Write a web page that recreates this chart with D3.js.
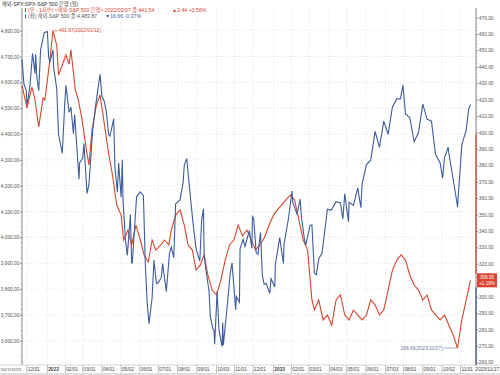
<!DOCTYPE html>
<html>
<head>
<meta charset="utf-8">
<script src="https://cdn.jsdelivr.net/npm/d3@7"></script>
<style>
  body { margin: 0; background: #fff; }
  text { font-family: "Liberation Sans", "Noto Sans CJK KR", sans-serif; }
</style>
</head>
<body>
<script>
// S&P 500 (left axis)
const spxDates = ["2021-11-23","2021-11-26","2021-11-30","2021-12-01","2021-12-03","2021-12-06","2021-12-10","2021-12-14","2021-12-15","2021-12-17","2021-12-20","2021-12-23","2021-12-29","2022-01-03","2022-01-05","2022-01-07","2022-01-12","2022-01-13","2022-01-18","2022-01-21","2022-01-27","2022-01-31","2022-02-02","2022-02-07","2022-02-10","2022-02-14","2022-02-16","2022-02-23","2022-02-24","2022-03-01","2022-03-03","2022-03-08","2022-03-11","2022-03-17","2022-03-22","2022-03-29","2022-04-01","2022-04-05","2022-04-08","2022-04-12","2022-04-14","2022-04-20","2022-04-22","2022-04-26","2022-04-28","2022-05-02","2022-05-04","2022-05-05","2022-05-09","2022-05-12","2022-05-17","2022-05-19","2022-05-20","2022-05-27","2022-06-02","2022-06-07","2022-06-10","2022-06-13","2022-06-16","2022-06-21","2022-06-24","2022-06-28","2022-07-01","2022-07-06","2022-07-08","2022-07-14","2022-07-19","2022-07-22","2022-07-26","2022-07-29","2022-08-05","2022-08-10","2022-08-12","2022-08-16","2022-08-19","2022-08-23","2022-08-26","2022-08-31","2022-09-06","2022-09-09","2022-09-12","2022-09-13","2022-09-16","2022-09-21","2022-09-23","2022-09-27","2022-09-29","2022-09-30","2022-10-04","2022-10-07","2022-10-12","2022-10-13","2022-10-14","2022-10-21","2022-10-25","2022-10-28","2022-11-03","2022-11-04","2022-11-09","2022-11-10","2022-11-15","2022-11-18","2022-11-25","2022-11-29","2022-11-30","2022-12-02","2022-12-06","2022-12-09","2022-12-13","2022-12-16","2022-12-19","2022-12-22","2022-12-28","2022-12-30","2023-01-05","2023-01-06","2023-01-13","2023-01-19","2023-01-20","2023-01-27","2023-02-02","2023-02-03","2023-02-10","2023-02-15","2023-02-17","2023-02-22","2023-02-24","2023-03-03","2023-03-06","2023-03-10","2023-03-13","2023-03-17","2023-03-22","2023-03-24","2023-03-31","2023-04-06","2023-04-14","2023-04-21","2023-04-25","2023-04-28","2023-05-04","2023-05-05","2023-05-12","2023-05-19","2023-05-24","2023-05-26","2023-06-02","2023-06-09","2023-06-16","2023-06-23","2023-06-30","2023-07-07","2023-07-14","2023-07-21","2023-07-27","2023-07-31","2023-08-04","2023-08-11","2023-08-18","2023-08-25","2023-09-01","2023-09-08","2023-09-15","2023-09-21","2023-09-22","2023-09-29","2023-10-03","2023-10-06","2023-10-12","2023-10-13","2023-10-20","2023-10-26","2023-10-27","2023-11-03","2023-11-10","2023-11-14","2023-11-17"];
const spxValues = [4690,4595,4567,4513,4538,4592,4712,4634,4709,4620,4568,4726,4793,4796,4700,4677,4726,4659,4577,4398,4326,4516,4589,4484,4504,4401,4475,4225,4289,4306,4363,4170,4204,4412,4512,4631,4546,4525,4488,4397,4392,4459,4272,4175,4288,4155,4300,4147,3991,3930,4088,3901,3901,4158,4176,4161,3901,3750,3666,3765,3912,3821,3825,3845,3899,3790,3937,3962,3921,4130,4145,4210,4280,4305,4228,4128,4058,3955,3908,4067,4110,3932,3873,3790,3693,3647,3640,3586,3791,3640,3577,3669,3583,3752,3859,3901,3720,3771,3749,3956,3992,3965,4026,3958,4080,4072,3941,3934,4019,3852,3818,3822,3783,3840,3808,3895,3999,3899,3973,4071,4179,4136,4090,4148,4079,3991,3970,4046,4048,3862,3855,3917,3937,3971,4109,4105,4138,4133,4071,4169,4061,4136,4124,4192,4115,4205,4282,4299,4410,4348,4450,4399,4505,4536,4537,4589,4478,4464,4370,4406,4516,4457,4450,4330,4320,4288,4229,4309,4349,4327,4224,4137,4117,4358,4415,4496,4514];

// S&P 500 Banks (right axis)
const bankDates = ["2021-11-23","2021-12-01","2021-12-09","2021-12-14","2021-12-20","2021-12-27","2021-12-30","2022-01-07","2022-01-12","2022-01-18","2022-01-21","2022-01-27","2022-02-02","2022-02-07","2022-02-10","2022-02-17","2022-02-22","2022-02-28","2022-03-07","2022-03-11","2022-03-16","2022-03-23","2022-03-29","2022-04-04","2022-04-11","2022-04-18","2022-04-25","2022-05-02","2022-05-06","2022-05-13","2022-05-19","2022-05-26","2022-06-02","2022-06-08","2022-06-15","2022-06-21","2022-06-27","2022-07-05","2022-07-11","2022-07-18","2022-07-22","2022-07-29","2022-08-05","2022-08-12","2022-08-18","2022-08-25","2022-08-31","2022-09-07","2022-09-13","2022-09-19","2022-09-26","2022-10-03","2022-10-10","2022-10-17","2022-10-24","2022-10-31","2022-11-07","2022-11-14","2022-11-21","2022-11-28","2022-12-05","2022-12-12","2022-12-19","2022-12-27","2023-01-03","2023-01-09","2023-01-16","2023-01-23","2023-01-30","2023-02-06","2023-02-13","2023-02-20","2023-02-27","2023-03-06","2023-03-10","2023-03-17","2023-03-24","2023-03-31","2023-04-07","2023-04-14","2023-04-21","2023-04-28","2023-05-05","2023-05-12","2023-05-19","2023-05-26","2023-06-02","2023-06-09","2023-06-16","2023-06-23","2023-06-30","2023-07-07","2023-07-14","2023-07-21","2023-07-28","2023-08-04","2023-08-11","2023-08-18","2023-08-25","2023-09-01","2023-09-08","2023-09-15","2023-09-22","2023-09-29","2023-10-06","2023-10-13","2023-10-20","2023-10-27","2023-11-03","2023-11-10","2023-11-17"];
const bankValues = [428.9,414.9,427.7,419.8,403.3,421,419.8,444.2,461.97,453.3,435,441.1,447.2,441.54,450.3,425.9,419.8,407.6,389.3,380.2,401.5,416.7,422.8,407.6,389.3,374.1,355.8,349.7,334.5,340.6,331.5,343.6,334.5,325.4,321.1,334.5,328.4,331.5,334.5,331.5,340.6,349.7,352.8,343.6,331.5,328.4,316.2,319.3,325.4,313.2,304,301,310.1,322.3,331.5,334.5,343.6,337,340.6,334.5,328.4,331.5,335.7,343.6,349.7,352.8,355.8,358.9,361.9,358.9,346.7,334.5,328.4,298,291.9,298,285.8,288.8,282.7,298,301,288.8,285.8,291.9,288.8,285.8,288.8,298,295,288.8,291.9,304,316.2,322.3,325.4,322.3,313.2,307.1,304,298,301,291.9,288.8,285.8,288.8,282.7,276.6,268.69,285.8,298,309.95];

// axis ticks and labels
const leftTicks = [3600,3700,3800,3900,4000,4100,4200,4300,4400,4500,4600,4700,4800];
const rightTicks = [260,270,280,290,300,310,320,330,340,350,360,370,380,390,400,410,420,430,440,450,460,470];
const monthTickDates = ["2021-12-01","2022-01-03","2022-02-01","2022-03-01","2022-04-01","2022-05-02","2022-06-01","2022-07-01","2022-08-01","2022-09-01","2022-10-03","2022-11-01","2022-12-01","2023-01-03","2023-02-01","2023-03-01","2023-04-03","2023-05-01","2023-06-01","2023-07-03","2023-08-01","2023-09-01","2023-10-02","2023-11-01"];
const monthTickLabels = ["12/01","2022","02/01","03/01","04/01","05/02","06/01","07/01","08/01","09/01","10/03","11/01","12/01","2023","02/01","03/01","04/03","05/01","06/01","07/03","08/01","09/01","10/02","11/01"];

const titleText = "해외-SPX:SPX-S&P 500 은행 (일)";
const bankLegend = "(우 - 1지수) <해외-S&P 500 은행>:2022/02/07 종:441.54";
const bankChange = "▲2.44  +0.56%";
const spxLegend = "(좌) 해외-S&P 500 종:4,483.87";
const spxChange = "▼16.66  -0.37%";

const blue = "#3c5c9c", red = "#d9452e", gridColor = "#d0d0d0", axisColor = "#8a8a8a";
const W = 500, H = 375;
const mLeft = 22, mRight = 476, mTop = 8, mBottom = 365;
const fs = 4.8;

const parse = d3.timeParse("%Y-%m-%d");
const fmt = d3.format(",.2f");

const svg = d3.select("body").append("svg")
    .attr("width", W).attr("height", H)
    .style("display", "block");

// last trading day sits a few pixels inside the right axis
const x = d3.scaleTime()
    .domain([parse("2021-11-23"), parse("2023-11-17")])
    .range([mLeft, 470.5]);
const yL = d3.scaleLinear().domain([3600, 4800]).range([340.7, 30.7]);
const yR = d3.scaleLinear().domain([260, 460]).range([362.3, 34]);

// gridlines
svg.append("g").selectAll("line")
    .data(leftTicks).enter().append("line")
    .attr("x1", mLeft).attr("x2", mRight)
    .attr("y1", d => yL(d)).attr("y2", d => yL(d))
    .attr("stroke", gridColor).attr("stroke-width", 0.6)
    .attr("stroke-dasharray", "1,2");
svg.append("g").selectAll("line")
    .data(monthTickDates).enter().append("line")
    .attr("x1", d => x(parse(d))).attr("x2", d => x(parse(d)))
    .attr("y1", mTop).attr("y2", mBottom)
    .attr("stroke", gridColor).attr("stroke-width", 0.6)
    .attr("stroke-dasharray", "1,2");

// left axis
const gl = svg.append("g").attr("transform", `translate(${mLeft},0)`);
gl.call(d3.axisLeft(yL).tickValues(leftTicks).tickSize(2).tickPadding(0.6).tickFormat(fmt));
gl.select(".domain").attr("stroke", axisColor).attr("d", `M0,${mTop}V${mBottom}`);
gl.selectAll(".tick line").attr("stroke", axisColor);
gl.selectAll("text").attr("font-size", fs).attr("fill", "#555");
// minor ticks
gl.append("g").selectAll("line")
    .data(d3.range(3520, 4880, 20).filter(v => v % 100 !== 0)).enter().append("line")
    .attr("x1", -1.2).attr("x2", 0)
    .attr("y1", d => yL(d)).attr("y2", d => yL(d))
    .attr("stroke", axisColor).attr("stroke-width", 0.6);

// right axis
const gr = svg.append("g").attr("transform", `translate(${mRight},0)`);
gr.call(d3.axisRight(yR).tickValues(rightTicks).tickSize(2).tickPadding(0.8).tickFormat(fmt));
gr.select(".domain").attr("stroke", axisColor).attr("d", `M0,${mTop}V${mBottom}`);
gr.selectAll(".tick line").attr("stroke", axisColor);
gr.selectAll("text").attr("font-size", fs).attr("fill", "#555");
gr.selectAll(".tick").filter(d => d === 310).remove();
gr.append("g").selectAll("line")
    .data(d3.range(258, 476, 2).filter(v => v % 10 !== 0)).enter().append("line")
    .attr("x1", 0).attr("x2", 1.2)
    .attr("y1", d => yR(d)).attr("y2", d => yR(d))
    .attr("stroke", axisColor).attr("stroke-width", 0.6);
// coloured parts of right axis
gr.append("line").attr("x1", 0).attr("x2", 0)
    .attr("y1", yR(399)).attr("y2", yR(314))
    .attr("stroke", red).attr("stroke-width", 1.2);
gr.append("line").attr("x1", 0).attr("x2", 0)
    .attr("y1", yR(305.5)).attr("y2", mBottom)
    .attr("stroke", blue).attr("stroke-width", 1.2);

// bottom axis
svg.append("line").attr("x1", 0).attr("x2", W).attr("y1", mBottom).attr("y2", mBottom)
    .attr("stroke", "#bbb").attr("stroke-width", 0.6);
svg.append("line").attr("x1", 0).attr("x2", W).attr("y1", H - 1).attr("y2", H - 1)
    .attr("stroke", "#bbb").attr("stroke-width", 1);
const gx = svg.append("g");
gx.selectAll("line").data(monthTickDates).enter().append("line")
    .attr("x1", d => x(parse(d))).attr("x2", d => x(parse(d)))
    .attr("y1", mBottom).attr("y2", mBottom + 8)
    .attr("stroke", "#999").attr("stroke-width", 0.6);
gx.selectAll("text").data(monthTickDates).enter().append("text")
    .attr("x", d => x(parse(d)) + 0.8).attr("y", mBottom + 6.3)
    .attr("font-size", fs).attr("fill", "#444")
    .attr("font-weight", (d, i) => monthTickLabels[i].length === 4 ? "bold" : "normal")
    .text((d, i) => monthTickLabels[i]);
gx.append("text").attr("x", 0.5).attr("y", mBottom + 6.3)
    .attr("font-size", 4.2).attr("fill", "#444")
    .attr("textLength", 20.5).attr("lengthAdjust", "spacingAndGlyphs")
    .text("2021/11/23");
gx.append("text").attr("x", W - 1).attr("y", mBottom + 6.3)
    .attr("text-anchor", "end").attr("font-size", fs).attr("fill", "#444")
    .text("2023/11/17");

// lines
const spx = spxDates.map((d, i) => ({date: parse(d), value: spxValues[i]}));
const bank = bankDates.map((d, i) => ({date: parse(d), value: bankValues[i]}));

svg.append("path").datum(bank)
    .attr("fill", "none").attr("stroke", red).attr("stroke-width", 1.1)
    .attr("d", d3.line().x(d => x(d.date)).y(d => yR(d.value)));
svg.append("path").datum(spx)
    .attr("fill", "none").attr("stroke", blue).attr("stroke-width", 1.1)
    .attr("d", d3.line().x(d => x(d.date)).y(d => yL(d.value)));

// max / min annotations
const maxPt = bank[d3.maxIndex(bank, d => d.value)];
const minPt = bank[d3.minIndex(bank, d => d.value)];
const tf = d3.timeFormat("%Y/%m/%d");
svg.append("line").attr("x1", x(maxPt.date)).attr("x2", x(maxPt.date) + 5)
    .attr("y1", yR(maxPt.value)).attr("y2", yR(maxPt.value))
    .attr("stroke", red).attr("stroke-width", 0.6);
svg.append("text").attr("x", x(maxPt.date) + 6).attr("y", yR(maxPt.value) + 1.7)
    .attr("font-size", fs).attr("fill", red)
    .text(`${maxPt.value.toFixed(2)}(${tf(maxPt.date)})`);
svg.append("line").attr("x1", x(minPt.date) - 14).attr("x2", x(minPt.date))
    .attr("y1", yR(minPt.value)).attr("y2", yR(minPt.value))
    .attr("stroke", "#6a7aa0").attr("stroke-width", 0.6);
svg.append("text").attr("x", x(minPt.date) - 15).attr("y", yR(minPt.value) + 1.7)
    .attr("text-anchor", "end").attr("font-size", fs).attr("fill", "#6a7aa0")
    .text(`${minPt.value.toFixed(2)}(${tf(minPt.date)})`);

// last value label on right axis
const last = bank[bank.length - 1];
svg.append("rect").attr("x", mRight + 1).attr("y", yR(last.value) - 7)
    .attr("width", 20).attr("height", 14).attr("fill", red);
svg.append("text").attr("x", mRight + 11).attr("y", yR(last.value) - 1.5)
    .attr("text-anchor", "middle").attr("font-size", 4.6).attr("fill", "#fff")
    .text(last.value.toFixed(2));
svg.append("text").attr("x", mRight + 11).attr("y", yR(last.value) + 4.5)
    .attr("text-anchor", "middle").attr("font-size", 4.6).attr("fill", "#fff")
    .text("+1.19%");

// header
svg.append("text").attr("x", 2).attr("y", 6).attr("font-size", 5.2).attr("fill", "#333")
    .text(titleText);
const lg = svg.append("g");
lg.append("rect").attr("x", 25).attr("y", 8).attr("width", 1).attr("height", 4).attr("fill", red);
lg.append("text").attr("x", 28).attr("y", 11.8).attr("font-size", 5.2).attr("fill", red)
    .text(bankLegend);
lg.append("text").attr("x", 172).attr("y", 11.8).attr("font-size", 5.2).attr("fill", red)
    .text(bankChange);
lg.append("rect").attr("x", 25).attr("y", 14.5).attr("width", 1).attr("height", 4).attr("fill", blue);
lg.append("text").attr("x", 28).attr("y", 18.3).attr("font-size", 5.2).attr("fill", "#555")
    .text(spxLegend);
lg.append("text").attr("x", 105).attr("y", 18.3).attr("font-size", 5.2).attr("fill", blue)
    .text(spxChange);
</script>
</body>
</html>
